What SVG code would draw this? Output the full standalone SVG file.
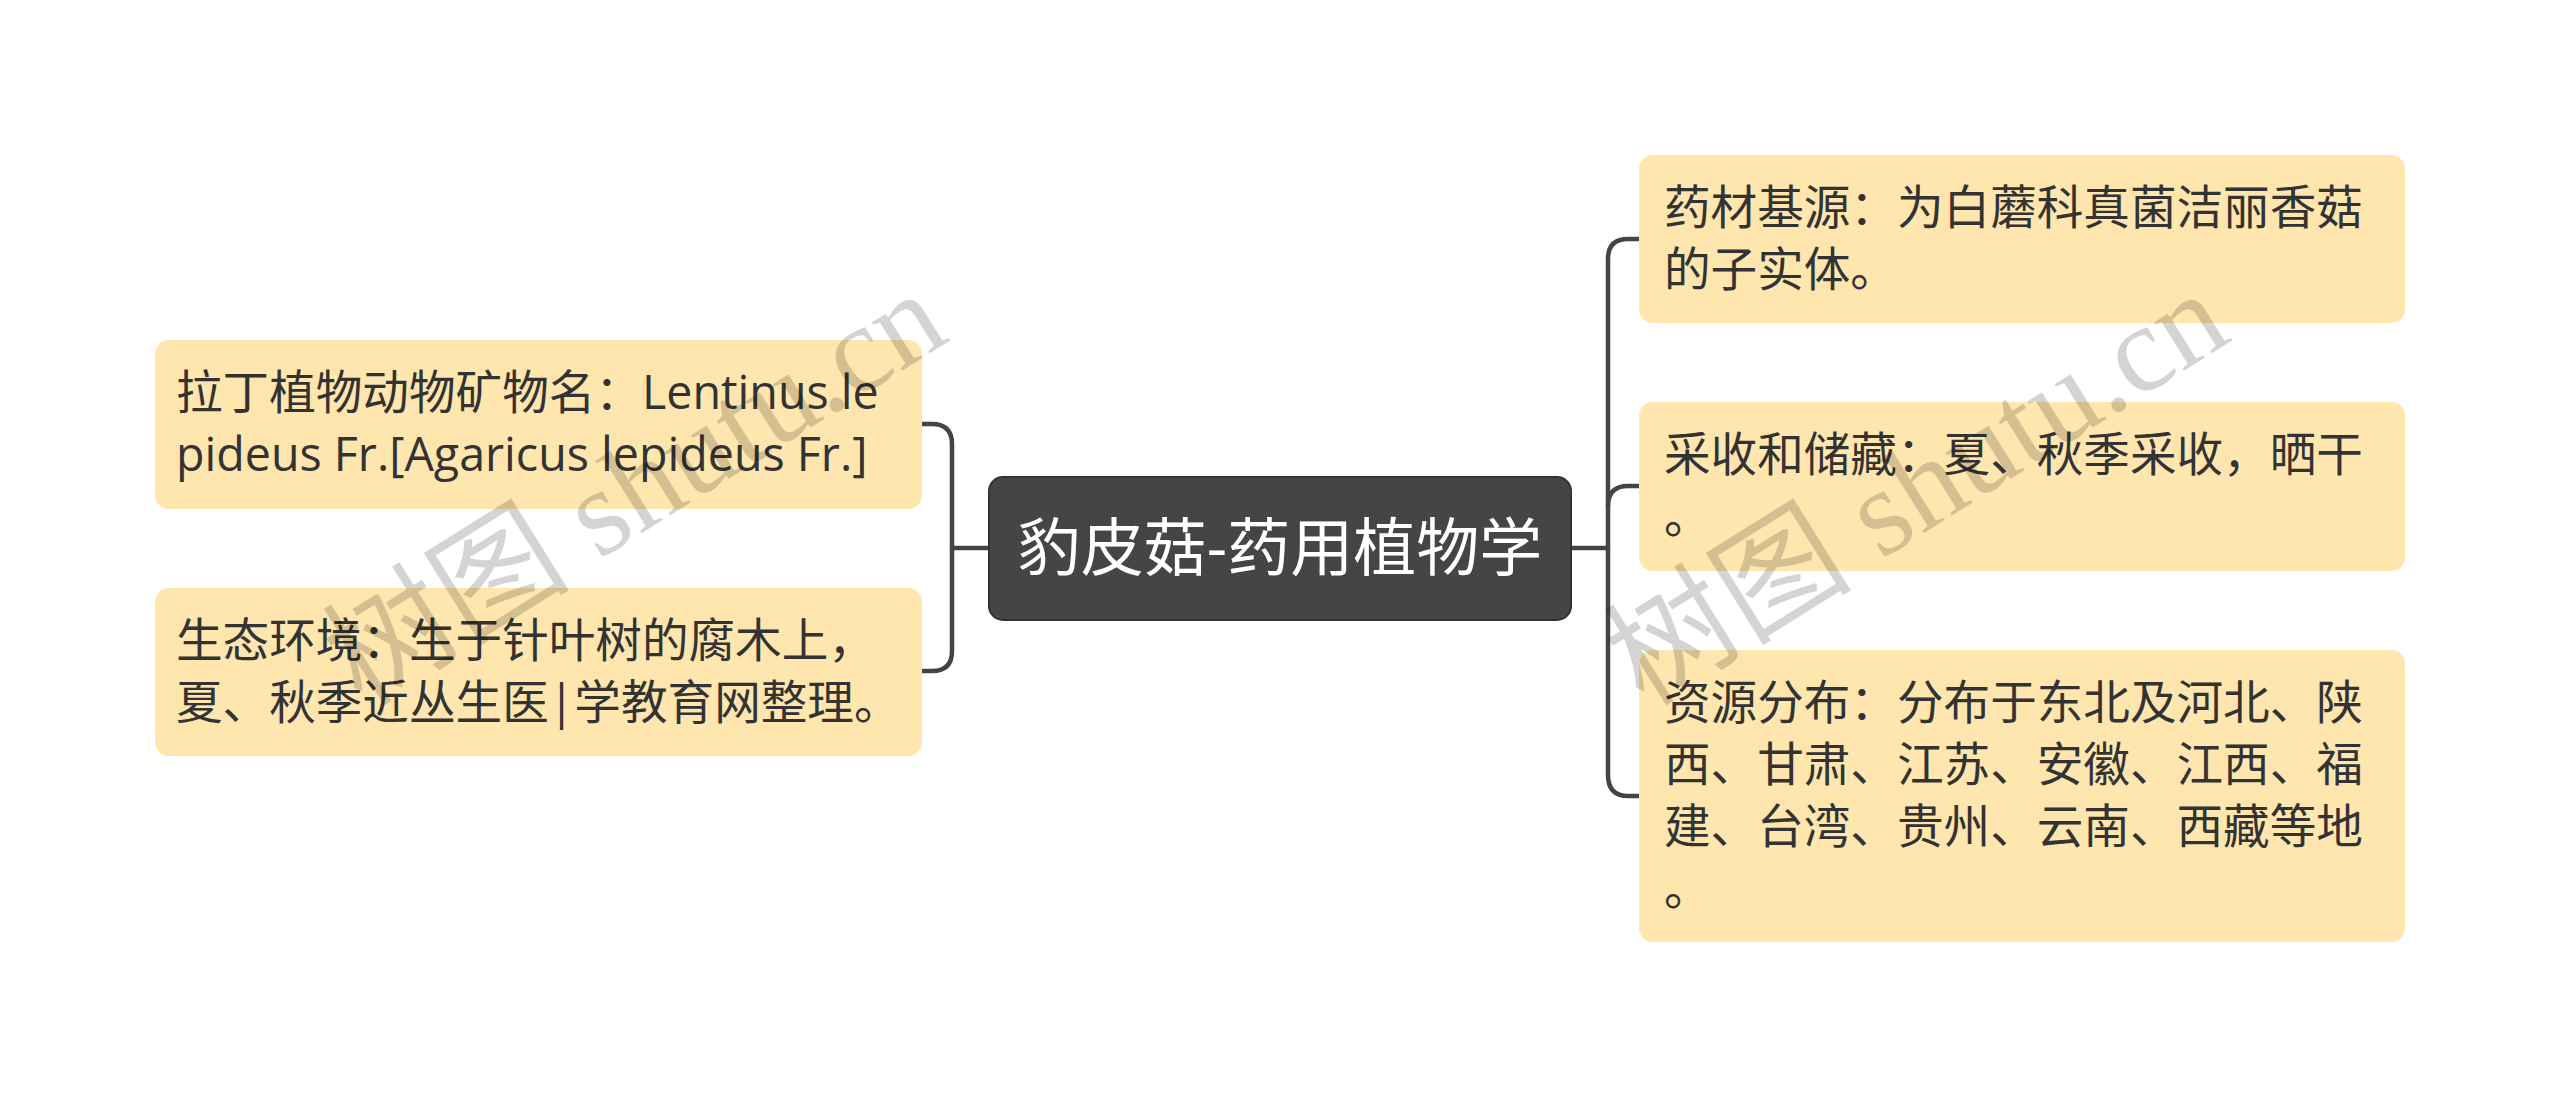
<svg xmlns="http://www.w3.org/2000/svg" width="2560" height="1097" viewBox="0 0 2560 1097">
<style>
.node rect{fill:#FEE6AE;}
.t{font-family:"Open Sans","Noto Sans CJK SC",sans-serif;font-size:46.6px;fill:#333333;}
.ct{font-family:"Open Sans","Noto Sans CJK SC",sans-serif;font-size:63px;fill:#ffffff;}
.conn path{fill:none;stroke:#444444;stroke-width:4.5;stroke-linecap:round;}
.wm{font-family:"Liberation Serif","Noto Sans CJK SC",serif;font-size:124px;fill:#000000;fill-opacity:0.17;}
</style>
<rect width="2560" height="1097" fill="#ffffff"/>
<g id="connectors" class="conn">
<path d="M989 548 H952"/>
<path d="M922 424 H932 Q952 424 952 444 V651 Q952 671 932 671 H922"/>
<path d="M1571 548 H1608"/>
<path d="M1639 239 H1628 Q1608 239 1608 259 V775 Q1608 796 1628 796 H1639"/>
<path d="M1639 486 H1628 Q1608 486 1608 506"/>
</g>
<g id="center">
<rect x="989" y="477" width="582" height="143" rx="14" fill="#454545" stroke="#333333" stroke-width="2"/>
<text class="ct" x="1280" y="570" text-anchor="middle">豹皮菇-药用植物学</text>
</g>
<g id="n-latin" class="node">
<rect x="155" y="340" width="767" height="169" rx="14"/>
<text class="t" x="176" y="409">拉丁植物动物矿物名：Lentinus le</text>
<text class="t" x="176" y="471">pideus Fr.[Agaricus lepideus Fr.]</text>
</g>
<g id="n-eco" class="node">
<rect x="155" y="588" width="767" height="168" rx="14"/>
<text class="t" x="176" y="657">生态环境：生于针叶树的腐木上，</text>
<text class="t" x="176" y="719">夏、秋季近丛生医|学教育网整理。</text>
</g>
<g id="n-source" class="node">
<rect x="1639" y="155" width="766" height="168" rx="14"/>
<text class="t" x="1664" y="224">药材基源：为白蘑科真菌洁丽香菇</text>
<text class="t" x="1664" y="286">的子实体。</text>
</g>
<g id="n-harvest" class="node">
<rect x="1639" y="402" width="766" height="169" rx="14"/>
<text class="t" x="1664" y="471">采收和储藏：夏、秋季采收，晒干</text>
<text class="t" x="1664" y="533">。</text>
</g>
<g id="n-dist" class="node">
<rect x="1639" y="650" width="766" height="292" rx="14"/>
<text class="t" x="1664" y="719">资源分布：分布于东北及河北、陕</text>
<text class="t" x="1664" y="781">西、甘肃、江苏、安徽、江西、福</text>
<text class="t" x="1664" y="843">建、台湾、贵州、云南、西藏等地</text>
<text class="t" x="1664" y="905">。</text>
</g>
<g id="watermarks">
<text class="wm" transform="translate(362 708) rotate(-32)">树图 shutu.cn</text>
<text class="wm" transform="translate(1644 708) rotate(-32)">树图 shutu.cn</text>
</g>
</svg>
